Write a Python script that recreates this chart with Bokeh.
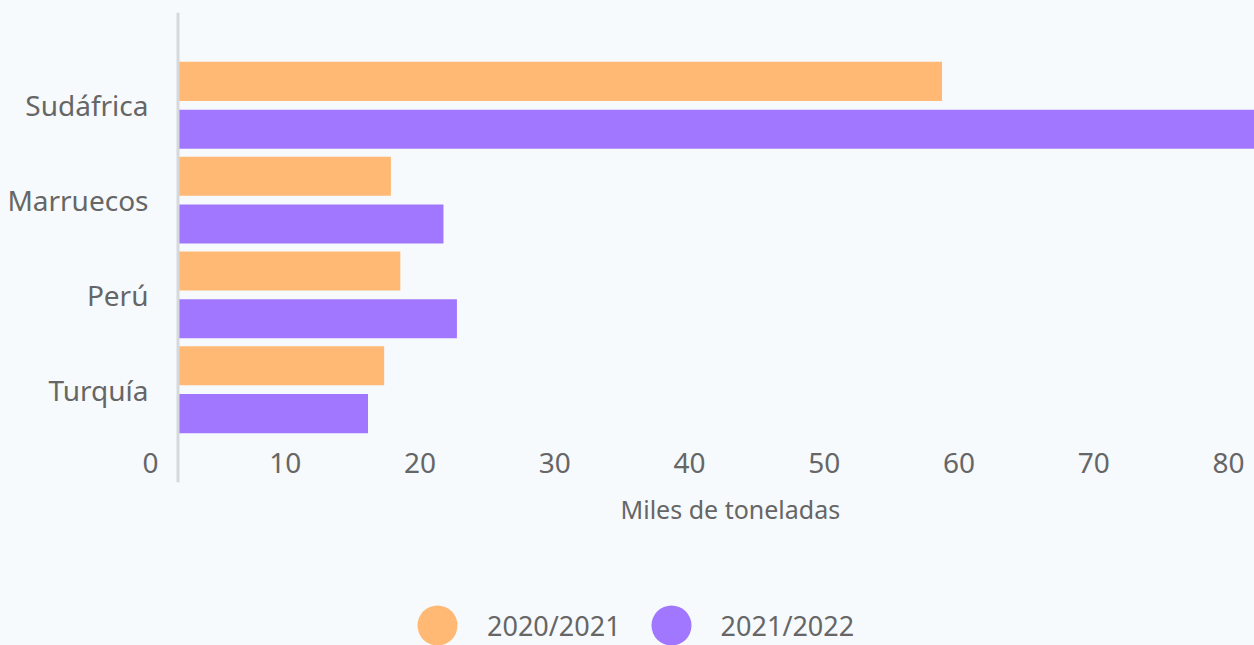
from bokeh.plotting import figure
from bokeh.layouts import column
from bokeh.models import (ColumnDataSource, FactorRange, Range1d, LinearAxis, FixedTicker,
                          Span, Legend, LegendItem, Title)
from bokeh.transform import dodge
from bokeh.embed import file_html
from bokeh.resources import INLINE

# ---- data ----
countries = ["Sudáfrica", "Marruecos", "Perú", "Turquía"]
series_names = ["2020/2021", "2021/2022"]
v_2020_2021 = [56.7, 15.8, 16.5, 15.3]
v_2021_2022 = [84.0, 19.7, 20.7, 14.1]
x_ticks = [0, 10, 20, 30, 40, 50, 60, 70, 80]
x_title = "Miles de toneladas"

# ---- style ----
BG = "#F6FAFD"
ORANGE = "#FFB974"
PURPLE = "#A177FF"
TXT = "#666666"
FONT = "Noto Sans"

x_start, x_end = -2.115, 79.89
shift = 2.04

source = ColumnDataSource(dict(country=countries, a=v_2020_2021, b=v_2021_2022))

fig = figure(frame_width=1105, frame_height=470,
             y_range=FactorRange(factors=countries[::-1], range_padding=0.48,
                                 range_padding_units="absolute"),
             x_range=Range1d(x_start, x_end),
             x_axis_location=None,
             output_backend="svg", toolbar_location=None,
             min_border_left=149, min_border_right=0, min_border_top=12,
             min_border_bottom=80,
             background_fill_color=BG, border_fill_color=BG, outline_line_color=None)

fig.extra_x_ranges = {"lab": Range1d(x_start + shift, x_end + shift)}
xaxis = LinearAxis(x_range_name="lab", ticker=FixedTicker(ticks=x_ticks))
xaxis.axis_line_color = None
xaxis.major_tick_line_color = None
xaxis.minor_tick_line_color = None
xaxis.major_tick_out = 0
xaxis.major_tick_in = 0
xaxis.major_label_text_font = FONT
xaxis.major_label_text_font_size = "28px"
xaxis.major_label_text_color = TXT
xaxis.major_label_standoff = -30
fig.add_layout(xaxis, "below")

fig.yaxis.axis_line_color = None
fig.yaxis.major_tick_line_color = None
fig.yaxis.minor_tick_line_color = None
fig.yaxis.major_tick_out = 0
fig.yaxis.major_tick_in = 0
fig.yaxis.major_label_standoff = 1
fig.yaxis.major_label_text_font = FONT
fig.yaxis.major_label_text_font_size = "28px"
fig.yaxis.major_label_text_color = TXT

fig.xgrid.grid_line_color = None
fig.ygrid.grid_line_color = None

fig.hbar(y=dodge("country", 0.253, range=fig.y_range), left=0, right="a", height=0.412,
         source=source, fill_color=ORANGE, line_color=None)
fig.hbar(y=dodge("country", -0.253, range=fig.y_range), left=0, right="b", height=0.412,
         source=source, fill_color=PURPLE, line_color=None)

fig.add_layout(Span(location=0, dimension="height", line_color="#D5D9DC", line_width=3))

title = Title(text=x_title, align="left", vertical_align="bottom", offset=471, standoff=15,
              text_font=FONT, text_font_size="25px", text_color=TXT,
              text_font_style="normal")
fig.add_layout(title, "below")

# ---- legend strip (its points fall outside its own ranges; only the legend shows) ----
leg = figure(width=1254, height=83, x_range=Range1d(0, 1), y_range=Range1d(0, 1),
             x_axis_location=None, y_axis_location=None,
             output_backend="svg", toolbar_location=None,
             min_border_left=0, min_border_right=0, min_border_top=0, min_border_bottom=0,
             background_fill_color=BG, border_fill_color=BG, outline_line_color=None)
leg.xgrid.grid_line_color = None
leg.ygrid.grid_line_color = None
src_a = ColumnDataSource(dict(x=v_2020_2021, y=v_2020_2021))
src_b = ColumnDataSource(dict(x=v_2021_2022, y=v_2021_2022))
r1 = leg.scatter(x="x", y="y", source=src_a, marker="circle", fill_color=ORANGE, line_color=None)
r2 = leg.scatter(x="x", y="y", source=src_b, marker="circle", fill_color=PURPLE, line_color=None)
legend = Legend(items=[LegendItem(label=series_names[0], renderers=[r1]),
                       LegendItem(label=series_names[1], renderers=[r2])],
                orientation="horizontal", location=(238, -30),
                glyph_width=100, glyph_height=100, label_standoff=0, spacing=0,
                padding=0, margin=0, border_line_color=None, background_fill_alpha=0,
                label_text_font=FONT, label_text_font_size="27px", label_text_color=TXT,
                label_text_baseline="middle")
leg.add_layout(legend, "center")

p = column(fig, leg, spacing=0)

open("out.html", "w").write(file_html(p, INLINE).replace(
    "<head>", "<head><style>body{background:#F6FAFD;overflow:hidden}</style>", 1))
